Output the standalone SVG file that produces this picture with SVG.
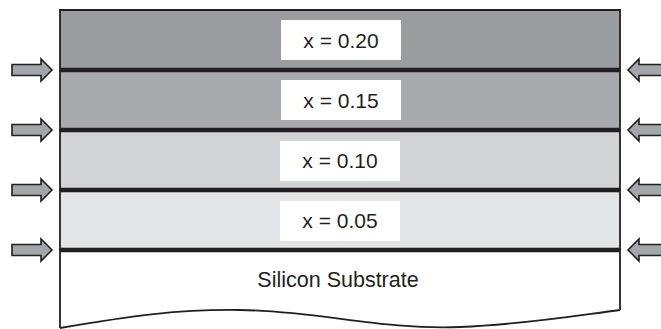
<svg xmlns="http://www.w3.org/2000/svg" width="661" height="329" viewBox="0 0 661 329">
<style>
.lbl{font-family:"Liberation Sans",Arial,sans-serif;font-size:21px;fill:#231f20;text-anchor:middle}
.box{fill:#ffffff}
.sep{stroke:#231f20;stroke-width:4.5;fill:none}
.edge{stroke:#231f20;stroke-width:1.8;fill:none}
.arrow{fill:#a2a6aa;stroke:#231f20;stroke-width:1.6;stroke-linejoin:miter}
</style>
<defs>
<path id="arrL" d="M12,-5.5 L41,-5.5 L41,-11 L52,0 L41,11 L41,5.5 L12,5.5 Z"/>
<path id="arrR" d="M670,-5.5 L639,-5.5 L639,-11 L628,0 L639,11 L639,5.5 L670,5.5 Z"/>
</defs>
<g id="layer-020">
<rect x="60" y="10" width="560" height="60" fill="#9c9da1"/>
<rect class="box" x="281" y="20" width="120" height="40"/>
<text class="lbl" x="341" y="47.5">x = 0.20</text>
</g>
<g id="layer-015">
<rect x="60" y="70" width="560" height="60" fill="#a9aaae"/>
<rect class="box" x="281" y="80" width="120" height="40"/>
<text class="lbl" x="341" y="107.5">x = 0.15</text>
</g>
<g id="layer-010">
<rect x="60" y="130" width="560" height="60" fill="#d3d4d6"/>
<rect class="box" x="280" y="141" width="120" height="40"/>
<text class="lbl" x="340" y="168">x = 0.10</text>
</g>
<g id="layer-005">
<rect x="60" y="190" width="560" height="60" fill="#e4e5e7"/>
<rect class="box" x="280" y="201" width="120" height="40"/>
<text class="lbl" x="340" y="228">x = 0.05</text>
</g>
<g id="substrate">
<path d="M60,250 L620,250 L620,310 C580,315 530,324 460,327 C380,330 320,311 240,310 C180,309 130,316 60,328 Z" fill="#ffffff"/>
<text class="lbl" x="338" y="287" style="font-size:21.5px">Silicon Substrate</text>
</g>
<g id="outline">
<path class="edge" d="M60,328 L60,10 L620,10 L620,310"/>
<path class="edge" d="M60,328 C130,316 180,309 240,310 C320,311 380,330 460,327 C530,324 580,315 620,310"/>
</g>
<g id="connectors">
<line class="sep" x1="60" y1="70" x2="620" y2="70"/>
<line class="sep" x1="60" y1="130" x2="620" y2="130"/>
<line class="sep" x1="60" y1="190" x2="620" y2="190"/>
<line class="sep" x1="60" y1="250" x2="620" y2="250"/>
<use href="#arrL" class="arrow" y="70"/>
<use href="#arrL" class="arrow" y="130"/>
<use href="#arrL" class="arrow" y="190"/>
<use href="#arrL" class="arrow" y="250"/>
<use href="#arrR" class="arrow" y="70"/>
<use href="#arrR" class="arrow" y="130"/>
<use href="#arrR" class="arrow" y="190"/>
<use href="#arrR" class="arrow" y="250"/>
</g>
</svg>
